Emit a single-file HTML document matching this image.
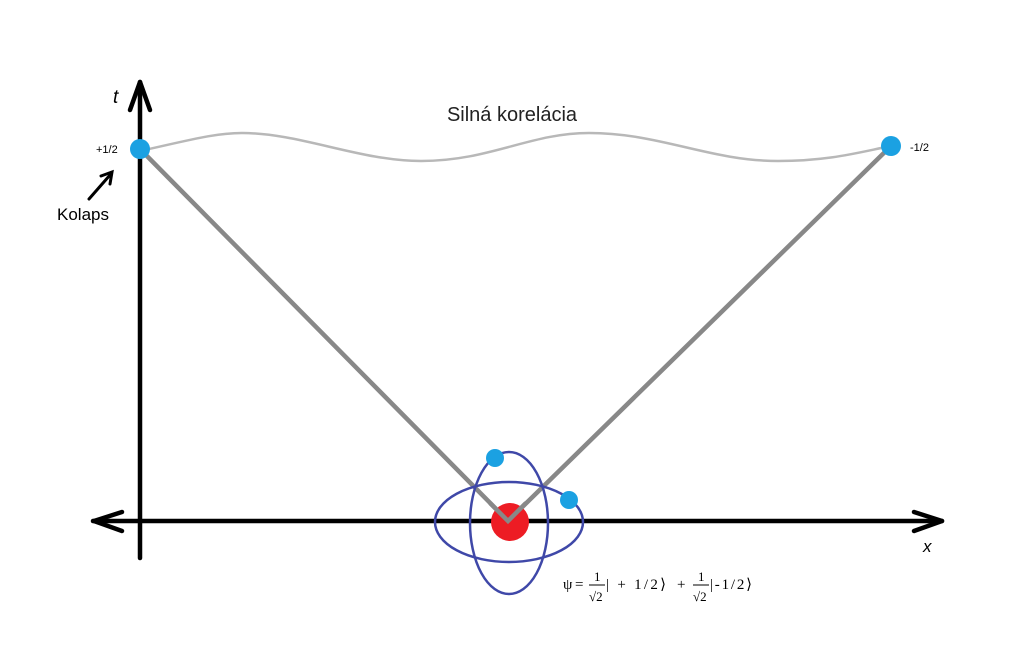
<!DOCTYPE html>
<html><head><meta charset="utf-8"><style>
html,body{margin:0;padding:0;background:#fff;}
svg{display:block;}
</style></head><body>
<svg width="1024" height="672" viewBox="0 0 1024 672" xmlns="http://www.w3.org/2000/svg">
<rect width="1024" height="672" fill="#fff"/>
<g stroke="#000" stroke-width="4.5" fill="none" stroke-linecap="round" stroke-linejoin="round">
<line x1="140" y1="82" x2="140" y2="558"/>
<line x1="93" y1="521" x2="942" y2="521"/>
<polyline points="130,110 140,82 150,110"/>
<polyline points="122,512 94,521 122,531"/>
<polyline points="914,512 942,521 914,531"/>
</g>
<path d="M140,151 C190,140 215,133 242,133 C300,133 360,161 421,161 C490,161 530,133 589,133 C660,133 710,161 778,161 C830,161 860,152 891,146" stroke="#b8b8b8" stroke-width="2.5" fill="none"/>
<polyline points="140,149 508,521 891,146" stroke="#888" stroke-width="4.5" fill="none" stroke-linejoin="miter"/>
<circle cx="510" cy="522" r="19" fill="#ed1c24"/>
<polyline points="490,503 508,521 526,503" stroke="#888" stroke-width="4.5" fill="none"/>
<ellipse cx="509" cy="522" rx="74" ry="40" stroke="#3f48a8" stroke-width="2.5" fill="none"/>
<ellipse cx="509" cy="523" rx="39" ry="71" stroke="#3f48a8" stroke-width="2.5" fill="none"/>
<circle cx="495" cy="458" r="9" fill="#1ba1e2"/>
<circle cx="569" cy="500" r="9" fill="#1ba1e2"/>
<circle cx="140" cy="149" r="10" fill="#1ba1e2"/>
<circle cx="891" cy="146" r="10" fill="#1ba1e2"/>
<g stroke="#000" stroke-width="3" fill="none" stroke-linecap="round">
<line x1="89" y1="199" x2="110" y2="175"/>
<polyline points="101,176 112,172 110,184"/>
</g>
<g font-family="'Liberation Sans',sans-serif" fill="#000">
<text x="113" y="103" font-size="19" font-style="italic">t</text>
<text x="512" y="121" font-size="20" text-anchor="middle" fill="#222">Silná korelácia</text>
<text x="96" y="153" font-size="11">+1/2</text>
<text x="910" y="151" font-size="11">-1/2</text>
<text x="57" y="220" font-size="17">Kolaps</text>
<text x="923" y="552" font-size="17" font-style="italic">x</text>
</g>
<g font-family="'Liberation Serif',serif" fill="#000" font-size="15">
<text x="563" y="589">ψ</text>
<text x="575" y="589">=</text>
<text x="594" y="581" font-size="13">1</text>
<line x1="589" y1="585" x2="605" y2="585" stroke="#000" stroke-width="1"/>
<text x="589" y="601" font-size="13">√2</text>
<text x="606" y="589" textLength="60" lengthAdjust="spacing">| + 1/2⟩</text>
<text x="677" y="589">+</text>
<text x="698" y="581" font-size="13">1</text>
<line x1="693" y1="585" x2="709" y2="585" stroke="#000" stroke-width="1"/>
<text x="693" y="601" font-size="13">√2</text>
<text x="710" y="589" textLength="42" lengthAdjust="spacing">|-1/2⟩</text>
</g>
</svg>
</body></html>
